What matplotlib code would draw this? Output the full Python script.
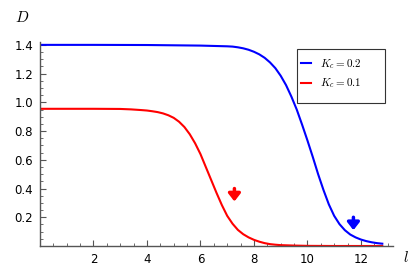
import matplotlib.pyplot as plt
from matplotlib.ticker import MultipleLocator
from matplotlib.patches import Rectangle

plt.rcParams['mathtext.fontset'] = 'cm'

# K_c = 0.2 (blue)
l_blue = [0.0, 2.0, 4.0, 6.0, 7.0, 7.2, 7.4, 7.6, 7.8, 8.0, 8.2, 8.4, 8.6, 8.8, 9.0, 9.2,
          9.4, 9.6, 9.8, 10.0, 10.2, 10.4, 10.6, 10.8, 11.0, 11.2, 11.4, 11.6, 11.8, 12.0,
          12.2, 12.4, 12.6, 12.8]
d_blue = [1.40, 1.40, 1.399, 1.395, 1.39, 1.388, 1.383, 1.376, 1.366, 1.352, 1.334, 1.31,
          1.278, 1.238, 1.185, 1.12, 1.04, 0.95, 0.845, 0.735, 0.62, 0.50, 0.39, 0.29,
          0.21, 0.152, 0.11, 0.08, 0.06, 0.045, 0.034, 0.026, 0.02, 0.016]

# K_c = 0.1 (red)
l_red = [0.0, 2.0, 3.0, 3.4, 3.8, 4.0, 4.2, 4.4, 4.6, 4.8, 5.0, 5.2, 5.4, 5.6, 5.8, 6.0,
         6.2, 6.4, 6.6, 6.8, 7.0, 7.2, 7.4, 7.6, 7.8, 8.0, 8.2, 8.4, 8.6, 8.8, 9.0, 9.5,
         10.0, 11.0, 12.0, 12.8]
d_red = [0.955, 0.955, 0.954, 0.951, 0.946, 0.943, 0.938, 0.932, 0.923, 0.91, 0.892, 0.865,
         0.828, 0.778, 0.715, 0.64, 0.55, 0.46, 0.37, 0.285, 0.21, 0.155, 0.112, 0.082,
         0.06, 0.043, 0.03, 0.02, 0.013, 0.009, 0.006, 0.003, 0.001, 0.0, 0.0, 0.0]

# arrows (x, y top, y bottom)
arrows = [(7.27, 0.40, 0.31, 'red'), (11.72, 0.20, 0.11, 'blue')]

W, H = 416, 274
fig = plt.figure(figsize=(W / 100, H / 100), dpi=100)
ax = fig.add_axes([40 / W, 1 - 246 / H, 353 / W, 204 / H])

ax.plot(l_blue, d_blue, color='#0000ff', lw=1.5, label='$K_c = 0.2$')
ax.plot(l_red, d_red, color='#ff0000', lw=1.5, label='$K_c = 0.1$')

for x, y0, y1, c in arrows:
    ax.annotate('', xy=(x, y1), xytext=(x, y0),
                arrowprops=dict(arrowstyle='-|>,head_width=0.35,head_length=0.45',
                                color=c, lw=2.5, shrinkA=0, shrinkB=0))

ax.set_xlim(0, 13.2)
ax.set_ylim(0, 1.42)
for s in ['top', 'right']:
    ax.spines[s].set_visible(False)
for s in ['left', 'bottom']:
    ax.spines[s].set_color('#555555')
    ax.spines[s].set_linewidth(1.0)

ax.xaxis.set_minor_locator(MultipleLocator(0.5))
ax.yaxis.set_minor_locator(MultipleLocator(0.05))
ax.set_xticks([2, 4, 6, 8, 10, 12])
ax.set_yticks([0.2, 0.4, 0.6, 0.8, 1.0, 1.2, 1.4])
ax.tick_params(which='major', direction='in', length=4, width=0.8, color='#555555', labelsize=8.5, pad=5)
ax.tick_params(which='minor', direction='in', length=2, width=0.6, color='#555555')

fig.text(22 / W, 1 - 18 / H, '$D$', fontsize=11, ha='center', va='center')
fig.text(406 / W, 1 - 258 / H, '$l$', fontsize=11, ha='center', va='center')

# legend frame drawn by hand, legend itself without frame
ax.add_patch(Rectangle((297 / W, 1 - 103 / H), 88 / W, 54 / H, transform=fig.transFigure,
                       facecolor='white', edgecolor='#333333', lw=0.8, zorder=5, clip_on=False))
leg = ax.legend(loc='upper left', bbox_to_anchor=(301 / W, 1 - 57 / H),
                bbox_transform=fig.transFigure, fontsize=8, frameon=False,
                handlelength=0.9, handletextpad=0.8, borderpad=0, borderaxespad=0,
                labelspacing=0.5)
leg.set_zorder(6)

fig.savefig('out.png', dpi=100)
